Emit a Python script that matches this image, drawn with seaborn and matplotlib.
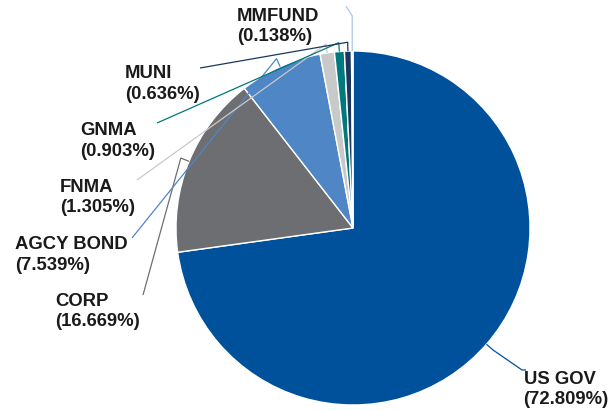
import numpy as np
import matplotlib
matplotlib.use("Agg")
import matplotlib.pyplot as plt
import seaborn as sns

sns.set_theme(style="white")
plt.rcParams["font.family"] = ["Liberation Sans", "DejaVu Sans"]

# Portfolio allocation by sector (percent of total)
categories = ["US GOV", "CORP", "AGCY BOND", "FNMA", "GNMA", "MUNI", "MMFUND"]
shares = [72.809, 16.669, 7.539, 1.305, 0.903, 0.636, 0.138]
colors = ["#00519B", "#6D6E71", "#4F86C6", "#C8C9CA", "#00797C", "#1B365D", "#A8C8E8"]

W, H = 609, 411
fig = plt.figure(figsize=(W / 100, H / 100), dpi=100)
ax = fig.add_axes([0, 0, 1, 1])


def px(x, y):
    """Pixel position (origin top-left) to axes data coordinates."""
    return x, H - y


cx, cy = px(353, 228)
R = 177

wedges, _ = ax.pie(
    shares, colors=colors, startangle=90, counterclock=False,
    center=(cx, cy), radius=R,
    wedgeprops=dict(edgecolor="white", linewidth=1.0),
)
ax.set_xlim(0, W)
ax.set_ylim(0, H)
ax.set_aspect("equal")
ax.axis("off")

# label anchor (left edge, vertical middle) and leader-line start, in pixels
label_pos = {
    "US GOV": ((523.5, 389.5), (526, 370)),
    "CORP": ((55, 311.5), (143, 295)),
    "AGCY BOND": ((15, 255), (132, 238)),
    "FNMA": ((60, 197.5), (137, 180)),
    "GNMA": ((80, 141), (157, 123)),
    "MUNI": ((125, 84), (200, 68)),
    "MMFUND": ((237, 26.5), (346, 6)),
}

for w, name, val, col in zip(wedges, categories, shares, colors):
    mid = np.deg2rad((w.theta1 + w.theta2) / 2)
    edge = (cx + R * np.cos(mid), cy + R * np.sin(mid))
    elbow = (cx + 1.05 * R * np.cos(mid), cy + 1.05 * R * np.sin(mid))
    (lx, ly), (sx, sy) = label_pos[name]
    start = px(sx, sy)
    xs = [start[0], elbow[0], edge[0]]
    ys = [start[1], elbow[1], edge[1]]
    if name == "US GOV":
        xs = [start[0], start[0] - 4, elbow[0], edge[0]]
        ys = [start[1], start[1], elbow[1], edge[1]]
    elif name == "MMFUND":
        bend = px(edge[0], 16)
        xs = [start[0], bend[0], edge[0]]
        ys = [start[1], bend[1], edge[1]]
    ax.plot(xs, ys, color=col, lw=0.9, solid_capstyle="butt")
    tx, ty = px(lx, ly)
    ax.text(tx, ty, f"{name}\n({val:.3f}%)", ha="left", va="center",
            fontsize=13.3, fontweight="bold", color="#1A1A1A", linespacing=1.28)

fig.savefig("out.png", dpi=100)
